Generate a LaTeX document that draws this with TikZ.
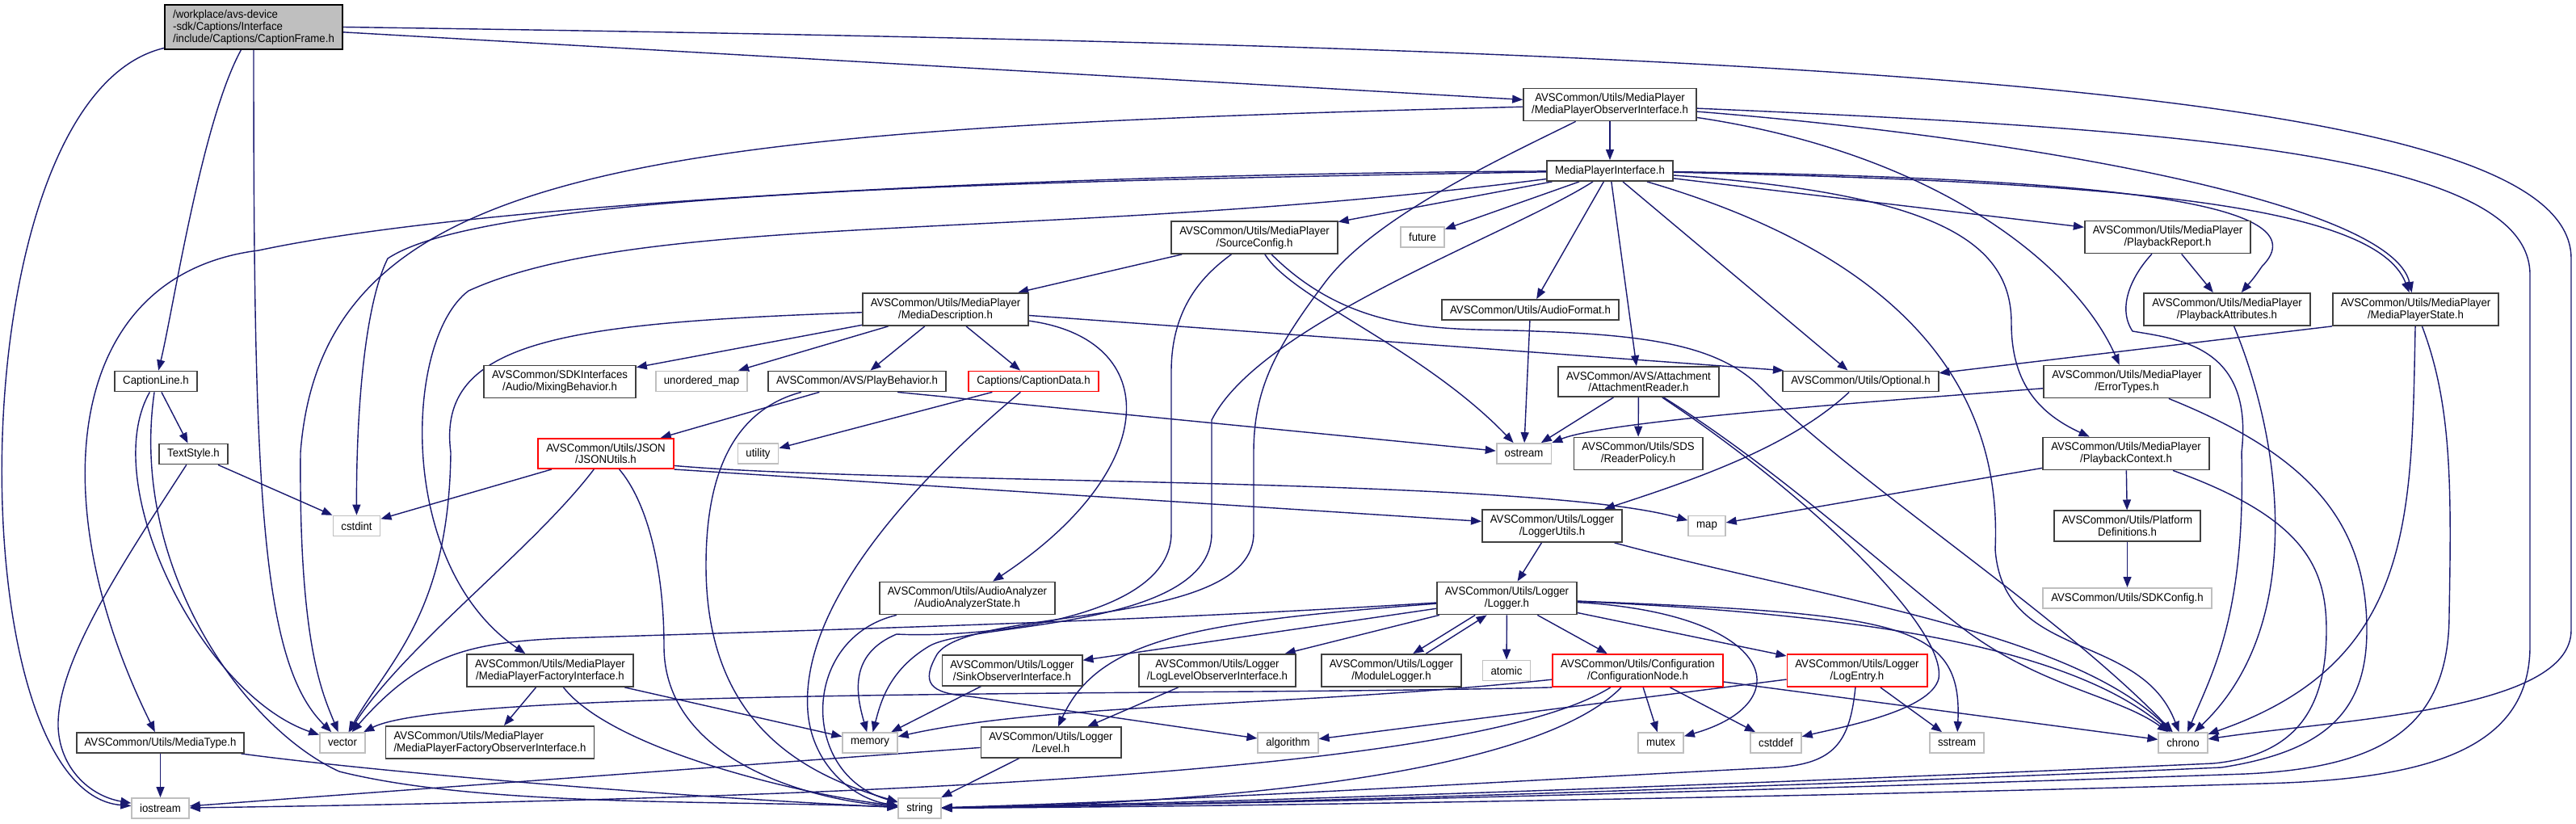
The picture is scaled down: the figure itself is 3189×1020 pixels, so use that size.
\documentclass[tikz,border=0pt]{standalone}
\usepackage{fontspec}
\setmainfont{Liberation Sans}[FakeStretch=0.94]
\usetikzlibrary{arrows.meta}
\definecolor{EdgeNavy}{HTML}{191970}
\definecolor{BoxLine}{HTML}{404040}
\definecolor{SysLine}{HTML}{BFBFBF}
\definecolor{CutLine}{HTML}{FF0000}
\definecolor{RootFill}{HTML}{BFBFBF}
\pgfdeclarelayer{back}
\pgfsetlayers{back,main}

\begin{document}
\begin{tikzpicture}[
    x=0.02cm, y=-0.02cm,
    hdr/.style={draw=BoxLine, line width=1pt, fill=white, align=center,
      inner xsep=0.2cm, inner ysep=0.12cm, minimum height=0.5cm,
      font=\fontsize{8}{8.5}\selectfont},
    syshdr/.style={hdr, draw=SysLine},
    cuthdr/.style={hdr, draw=CutLine},
    roothdr/.style={hdr, draw=black, fill=RootFill, align=left},
    incl/.style={draw=EdgeNavy, line width=0.8pt,
      -{Triangle[length=0.26cm,width=0.2cm]}}
  ]
  \useasboundingbox (0,0) rectangle (3189,1020);

  \node[roothdr] (captionframe) at (314,33.5) {/workplace/avs-device\\-sdk/Captions/Interface\\/include/Captions/CaptionFrame.h};
  \node[hdr] (mpobserver) at (1993,129.5) {AVSCommon/Utils/MediaPlayer\\/MediaPlayerObserverInterface.h};
  \node[hdr] (mpiface) at (1993,211.5) {MediaPlayerInterface.h};
  \node[hdr] (sourceconfig) at (1553,294) {AVSCommon/Utils/MediaPlayer\\/SourceConfig.h};
  \node[syshdr] (future) at (1761,293.5) {future};
  \node[hdr] (playreport) at (2683.5,293.5) {AVSCommon/Utils/MediaPlayer\\/PlaybackReport.h};
  \node[hdr] (mediadesc) at (1170.5,383) {AVSCommon/Utils/MediaPlayer\\/MediaDescription.h};
  \node[hdr] (audioformat) at (1894.5,383.5) {AVSCommon/Utils/AudioFormat.h};
  \node[hdr] (playattrs) at (2757,383) {AVSCommon/Utils/MediaPlayer\\/PlaybackAttributes.h};
  \node[hdr] (mpstate) at (2990.5,383) {AVSCommon/Utils/MediaPlayer\\/MediaPlayerState.h};
  \node[hdr] (captionline) at (193,472) {CaptionLine.h};
  \node[hdr] (mixing) at (693,472.5) {AVSCommon/SDKInterfaces\\/Audio/MixingBehavior.h};
  \node[syshdr] (unorderedmap) at (868.5,472) {unordered\_map};
  \node[hdr] (playbehavior) at (1061,472) {AVSCommon/AVS/PlayBehavior.h};
  \node[cuthdr] (captiondata) at (1279.5,472) {Captions/CaptionData.h};
  \node[hdr] (attreader) at (2028.5,472.5) {AVSCommon/AVS/Attachment\\/AttachmentReader.h};
  \node[hdr] (optional) at (2303.5,472) {AVSCommon/Utils/Optional.h};
  \node[hdr] (errortypes) at (2633,472.5) {AVSCommon/Utils/MediaPlayer\\/ErrorTypes.h};
  \node[hdr] (textstyle) at (239.5,562) {TextStyle.h};
  \node[cuthdr] (jsonutils) at (750,561.5) {AVSCommon/Utils/JSON\\/JSONUtils.h};
  \node[syshdr] (utility) at (938.5,561.5) {utility};
  \node[syshdr] (ostream) at (1886.5,561.5) {ostream};
  \node[hdr] (readerpolicy) at (2028,561.5) {AVSCommon/Utils/SDS\\/ReaderPolicy.h};
  \node[hdr] (playcontext) at (2632,561.5) {AVSCommon/Utils/MediaPlayer\\/PlaybackContext.h};
  \node[syshdr] (cstdint) at (441.5,651) {cstdint};
  \node[hdr] (loggerutils) at (1921.5,651) {AVSCommon/Utils/Logger\\/LoggerUtils.h};
  \node[syshdr] (map) at (2113,651) {map};
  \node[hdr] (platformdefs) at (2633.5,651) {AVSCommon/Utils/Platform\\Definitions.h};
  \node[hdr] (analyzerstate) at (1197.5,740.5) {AVSCommon/Utils/AudioAnalyzer\\/AudioAnalyzerState.h};
  \node[hdr] (logger) at (1865.5,740.5) {AVSCommon/Utils/Logger\\/Logger.h};
  \node[syshdr] (sdkconfig) at (2633.5,740.5) {AVSCommon/Utils/SDKConfig.h};
  \node[hdr] (mpfactory) at (681,830) {AVSCommon/Utils/MediaPlayer\\/MediaPlayerFactoryInterface.h};
  \node[hdr] (sinkobs) at (1253,830) {AVSCommon/Utils/Logger\\/SinkObserverInterface.h};
  \node[hdr] (loglevelobs) at (1507,830) {AVSCommon/Utils/Logger\\/LogLevelObserverInterface.h};
  \node[hdr] (modulelogger) at (1722.5,830) {AVSCommon/Utils/Logger\\/ModuleLogger.h};
  \node[syshdr] (atomic) at (1865,830) {atomic};
  \node[cuthdr] (confignode) at (2027.5,830) {AVSCommon/Utils/Configuration\\/ConfigurationNode.h};
  \node[cuthdr] (logentry) at (2299,830) {AVSCommon/Utils/Logger\\/LogEntry.h};
  \node[hdr] (mediatype) at (198.5,919.5) {AVSCommon/Utils/MediaType.h};
  \node[syshdr] (vector) at (424,919.5) {vector};
  \node[hdr, align=left] (mpfactoryobs) at (606.5,919) {AVSCommon/Utils/MediaPlayer\\/MediaPlayerFactoryObserverInterface.h};
  \node[syshdr] (memory) at (1077,919.5) {memory};
  \node[hdr] (level) at (1301,919) {AVSCommon/Utils/Logger\\/Level.h};
  \node[syshdr] (algorithm) at (1594.5,919.5) {algorithm};
  \node[syshdr] (mutex) at (2056,919.5) {mutex};
  \node[syshdr] (cstddef) at (2198.5,919.5) {cstddef};
  \node[syshdr] (sstream) at (2422.5,919.5) {sstream};
  \node[syshdr] (chrono) at (2702.5,919.5) {chrono};
  \node[syshdr] (iostream) at (198.5,1000.5) {iostream};
  \node[syshdr] (string) at (1138.5,1000.5) {string};

  \begin{pgfonlayer}{back}
    \fill[white] (0,0) rectangle (3189,1020);
    % CaptionFrame.h
    \draw[incl] (captionframe) .. controls (-55,120) and (-55,980) .. (iostream);
    \draw[incl] (captionframe) .. controls (250,150) and (215,380) .. (captionline);
    \draw[incl] (captionframe) .. controls (314,600) and (322,820) .. (vector);
    \draw[incl] (captionframe) -- (mpobserver);
    \draw[incl] (captionframe.east) .. controls (2300,60) and (3183,110) .. (3183,320)
      -- (3183,780) .. controls (3183,880) and (2900,890) .. (chrono);
    \draw[incl] (captionline) -- (textstyle);
    \draw[incl] (captionline) .. controls (120,600) and (250,860) .. (vector);
    \draw[incl] (captionline) .. controls (160,700) and (300,900) .. (420,955)
      .. controls (600,1000) and (900,990) .. (string);
    \draw[incl] (textstyle) -- (cstdint);
    \draw[incl] (textstyle) .. controls (150,700) and (70,820) .. (72,900)
      .. controls (74,950) and (110,985) .. (iostream);
    \draw[incl] (mediatype) -- (iostream);
    \draw[incl] (mediatype) .. controls (500,960) and (900,990) .. (string);
    % observer interface
    \draw[incl] (mpobserver) -- (mpiface);
    \draw[incl] (mpobserver) .. controls (800,160) and (400,200) .. (372,560)
      .. controls (370,800) and (400,860) .. (vector);
    \draw[incl] (mpobserver) .. controls (1850,200) and (1700,270) .. (1640,350)
      .. controls (1580,430) and (1552,480) .. (1552,560) -- (1552,660)
      .. controls (1552,780) and (1200,750) .. (1160,810)
      .. controls (1140,845) and (1150,858) .. (1200,862) -- (algorithm);
    \draw[incl] (mpobserver) .. controls (2700,160) and (3132,190) .. (3132,340)
      -- (3132,800) .. controls (3132,930) and (3000,965) .. (2800,970)
      .. controls (2300,985) and (1600,998) .. (string);
    \draw[incl] (mpobserver) .. controls (2500,170) and (2960,250) .. (mpstate);
    \draw[incl] (mpobserver) .. controls (2400,190) and (2570,330) .. (errortypes);
    % player interface
    \draw[incl] (mpiface) .. controls (1300,215) and (600,250) .. (320,310)
      .. controls (80,340) and (50,620) .. (mediatype);
    \draw[incl] (mpiface) .. controls (1200,225) and (600,240) .. (480,320)
      .. controls (450,380) and (441,520) .. (cstdint);
    \draw[incl] (mpiface) .. controls (1300,300) and (800,260) .. (580,360)
      .. controls (500,420) and (490,700) .. (mpfactory);
    \draw[incl] (mpiface) -- (sourceconfig);
    \draw[incl] (mpiface) -- (future);
    \draw[incl] (mpiface) .. controls (1870,290) and (1560,400) .. (1500,520)
      -- (1500,660) .. controls (1500,780) and (1200,770) .. (1150,800)
      .. controls (1100,830) and (1090,870) .. (memory);
    \draw[incl] (mpiface) -- (audioformat);
    \draw[incl] (mpiface) -- (attreader);
    \draw[incl] (mpiface) -- (optional);
    \draw[incl] (mpiface) .. controls (2330,310) and (2480,460) .. (2470,680)
      .. controls (2480,820) and (2650,780) .. (chrono);
    \draw[incl] (mpiface) .. controls (2600,225) and (2940,250) .. (mpstate);
    \draw[incl] (mpiface) .. controls (2600,220) and (2880,250) .. (2800,330)
      .. controls (2790,345) and (2785,350) .. (playattrs);
    \draw[incl] (mpiface) .. controls (2400,240) and (2490,300) .. (2490,400)
      .. controls (2490,470) and (2520,510) .. (playcontext);
    \draw[incl] (mpiface) -- (playreport);
    % source config and media description
    \draw[incl] (sourceconfig) -- (mediadesc);
    \draw[incl] (sourceconfig) .. controls (1490,340) and (1450,380) .. (1450,460)
      -- (1450,660) .. controls (1450,770) and (1200,790) .. (1110,785)
      .. controls (1050,810) and (1060,860) .. (memory);
    \draw[incl] (sourceconfig) .. controls (1600,370) and (1760,430) .. (ostream);
    \draw[incl] (sourceconfig) .. controls (1680,420) and (1800,405) .. (1900,410)
      .. controls (2050,415) and (2130,430) .. (2180,480)
      .. controls (2300,600) and (2550,760) .. (chrono);
    \draw[incl] (mediadesc) .. controls (700,400) and (540,420) .. (558,560)
      .. controls (556,760) and (480,820) .. (vector);
    \draw[incl] (mediadesc) -- (mixing);
    \draw[incl] (mediadesc) -- (unorderedmap);
    \draw[incl] (mediadesc) -- (playbehavior);
    \draw[incl] (mediadesc) -- (captiondata);
    \draw[incl] (mediadesc) .. controls (1440,420) and (1440,580) .. (analyzerstate);
    \draw[incl] (mediadesc) -- (optional.172);
    \draw[incl] (playbehavior) -- (jsonutils);
    \draw[incl] (playbehavior.-15) -- (ostream);
    \draw[incl] (playbehavior.-169) .. controls (900,510) and (874,600) .. (874,700)
      .. controls (874,900) and (1000,960) .. (string);
    \draw[incl] (captiondata) -- (utility);
    \draw[incl] (captiondata) .. controls (1150,580) and (990,740) .. (1000,880)
      .. controls (1005,950) and (1060,990) .. (string);
    \draw[incl] (jsonutils) -- (cstdint);
    \draw[incl] (jsonutils) .. controls (660,680) and (500,800) .. (vector);
    \draw[incl] (jsonutils) .. controls (800,620) and (822,700) .. (822,800)
      .. controls (822,940) and (1000,990) .. (string);
    \draw[incl] (jsonutils.-10) .. controls (1100,600) and (1900,590) .. (map);
    \draw[incl] (jsonutils.south east) -- (loggerutils);
    % middle row
    \draw[incl] (audioformat) -- (ostream);
    \draw[incl] (attreader) -- (ostream);
    \draw[incl] (attreader) -- (readerpolicy);
    \draw[incl] (attreader) .. controls (2250,620) and (2410,780) .. (2400,840)
      .. controls (2390,880) and (2280,900) .. (cstddef);
    \draw[incl] (attreader) .. controls (2200,580) and (2330,700) .. (2420,770)
      .. controls (2520,850) and (2620,860) .. (chrono);
    \draw[incl] (optional) .. controls (2220,550) and (2110,590) .. (loggerutils);
    \draw[incl] (errortypes) .. controls (2350,495) and (1990,520) .. (ostream.north east);
    \draw[incl] (errortypes) .. controls (2850,560) and (2930,640) .. (2930,780)
      .. controls (2930,880) and (2880,930) .. (2750,950)
      .. controls (2300,970) and (1600,995) .. (string);
    \draw[incl] (mpstate.south west) -- (optional.6);
    \draw[incl] (mpstate) .. controls (2985,640) and (2990,820) .. (chrono);
    \draw[incl] (mpstate) .. controls (3035,500) and (3035,600) .. (3032,760)
      .. controls (3032,900) and (2950,950) .. (2780,958)
      .. controls (2300,975) and (1600,995) .. (string);
    \draw[incl] (playreport) -- (playattrs);
    \draw[incl] (playreport) .. controls (2640,340) and (2620,380) .. (2640,410)
      .. controls (2700,420) and (2790,430) .. (2775,560)
      .. controls (2780,760) and (2740,830) .. (chrono);
    \draw[incl] (playattrs) .. controls (2830,560) and (2850,780) .. (chrono);
    \draw[incl] (playcontext) -- (map);
    \draw[incl] (playcontext) -- (platformdefs);
    \draw[incl] (playcontext) .. controls (2850,640) and (2880,700) .. (2880,780)
      .. controls (2880,880) and (2840,935) .. (2740,945)
      .. controls (2300,965) and (1600,992) .. (string);
    \draw[incl] (platformdefs) -- (sdkconfig);
    % logger
    \draw[incl] (loggerutils) -- (logger);
    \draw[incl] (loggerutils) .. controls (2250,740) and (2560,780) .. (chrono);
    \draw[incl] (logger) .. controls (1400,770) and (1000,780) .. (700,790)
      .. controls (580,795) and (520,810) .. (vector);
    \draw[incl] (logger) -- (sinkobs);
    \draw[incl] (logger) .. controls (1480,770) and (1360,790) .. (level);
    \draw[incl] (logger) -- (loglevelobs);
    \draw[incl] (logger.-152) -- (modulelogger.38);
    \draw[incl] (modulelogger.26) -- (logger.-140);
    \draw[incl] (logger) -- (atomic);
    \draw[incl] (logger) -- (confignode);
    \draw[incl] (logger) -- (logentry);
    \draw[incl] (logger) .. controls (2200,760) and (2230,870) .. (mutex);
    \draw[incl] (logger) .. controls (2300,760) and (2560,800) .. (chrono);
    \draw[incl] (logger) .. controls (2350,760) and (2430,770) .. (sstream);
    \draw[incl] (sinkobs) -- (memory);
    \draw[incl] (loglevelobs) -- (level);
    \draw[incl] (level) -- (iostream);
    \draw[incl] (level) -- (string);
    \draw[incl] (confignode.south west) .. controls (1500,862) and (560,850) .. (vector);
    \draw[incl] (confignode) .. controls (1600,875) and (1300,870) .. (memory);
    \draw[incl] (confignode) .. controls (1850,940) and (1300,985) .. (iostream);
    \draw[incl] (confignode) .. controls (1900,960) and (1500,995) .. (string);
    \draw[incl] (confignode) -- (mutex);
    \draw[incl] (confignode) -- (cstddef);
    \draw[incl] (confignode) -- (chrono);
    \draw[incl] (logentry) -- (algorithm);
    \draw[incl] (logentry) -- (sstream);
    \draw[incl] (logentry) .. controls (2290,920) and (2270,945) .. (2200,950)
      .. controls (1900,965) and (1500,990) .. (string);
    \draw[incl] (analyzerstate) .. controls (990,790) and (990,960) .. (string);
    \draw[incl] (mpfactory) -- (mpfactoryobs);
    \draw[incl] (mpfactory) -- (memory);
    \draw[incl] (mpfactory) .. controls (760,930) and (1000,985) .. (string);
  \end{pgfonlayer}
\end{tikzpicture}
\end{document}
